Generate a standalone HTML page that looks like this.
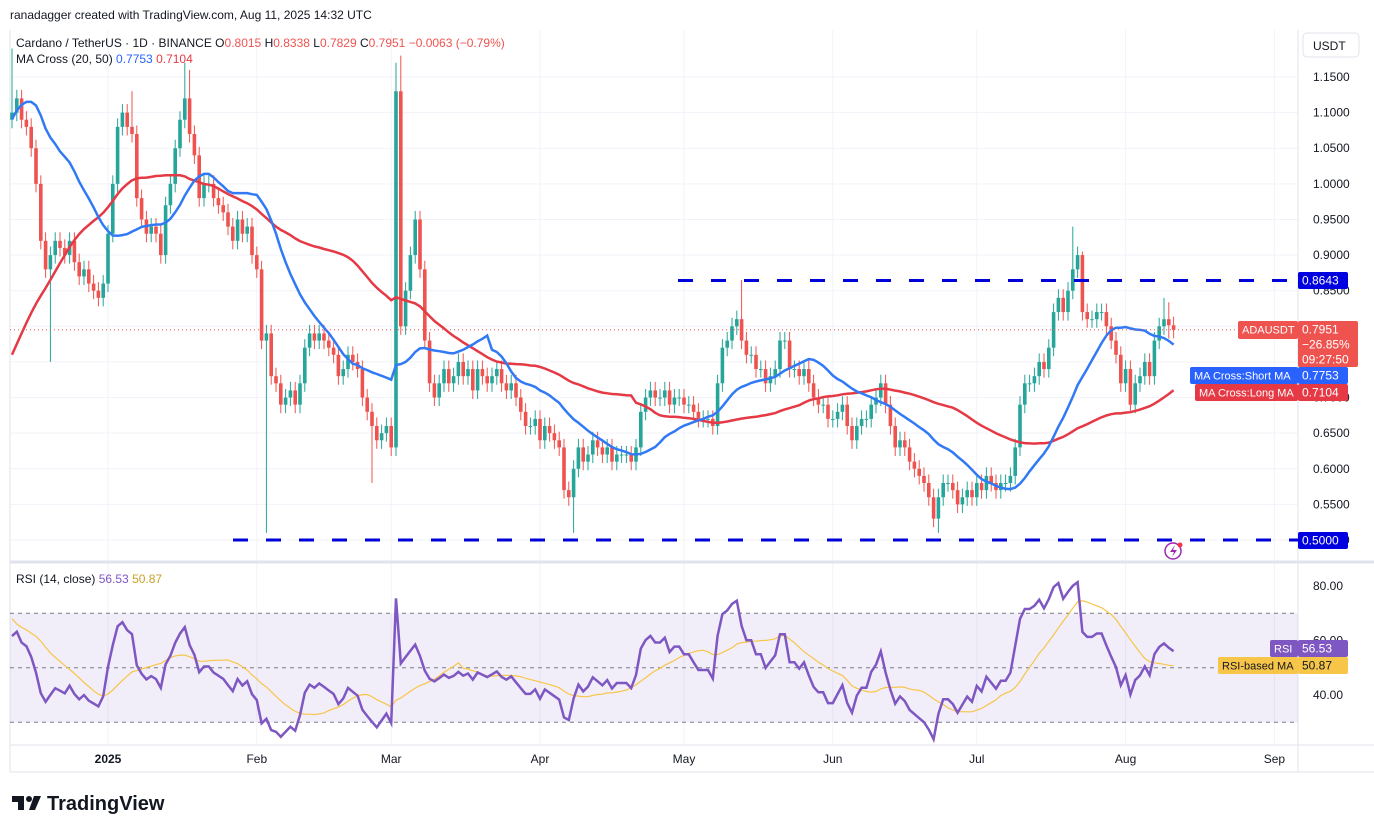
<!DOCTYPE html>
<html><head><meta charset="utf-8"><style>
body{margin:0;background:#fff;width:1374px;height:833px;overflow:hidden;font-family:"Liberation Sans",sans-serif}
svg text{font-family:"Liberation Sans",sans-serif}
</style></head><body>
<svg id="c" width="1374" height="833"></svg>
<script>
const priorCloses=[0.36,0.35,0.34,0.35,0.36,0.35,0.34,0.33,0.33,0.32,0.34,0.36,0.40,0.45,0.52,0.58,0.56,0.58,0.55,0.54,0.56,0.60,0.70,0.78,0.80,0.85,0.90,0.92,0.89,0.87,0.88,0.93,1.00,1.05,1.10,1.20,1.25,1.15,1.10,1.12,1.05,1.08,1.14,1.16,1.12,1.09,1.10,1.11,1.09];
const closes=[
1.10,1.12,1.09,1.08,1.05,1.00,0.92,0.88,0.90,0.92,0.91,0.90,0.92,0.89,0.87,0.88,0.86,0.85,0.84,0.86,
0.93,1.00,1.08,1.10,1.08,1.07,0.98,0.95,0.93,0.94,0.93,0.90,0.97,1.00,1.05,1.09,1.12,1.07,1.04,0.98,1.00,1.00,0.98,0.97,0.96,0.94,0.92,0.95,0.93,0.94,0.90,
0.88,0.78,0.79,0.73,0.72,0.69,0.70,0.71,0.69,0.72,0.77,0.79,0.78,0.79,0.78,0.77,0.76,0.73,0.74,0.76,0.75,0.74,0.70,0.68,0.66,0.64,0.65,0.66,
0.63,1.13,0.80,0.85,0.90,0.95,0.88,0.78,0.72,0.70,0.72,0.74,0.72,0.73,0.75,0.73,0.74,0.71,0.74,0.73,0.72,0.73,0.74,0.72,0.71,0.72,0.70,0.68,0.66,0.66,0.67,
0.64,0.66,0.65,0.64,0.63,0.57,0.56,0.60,0.63,0.61,0.62,0.64,0.63,0.62,0.63,0.61,0.62,0.62,0.62,0.61,0.63,0.68,0.70,0.71,0.70,0.70,0.71,0.69,0.70,0.70,
0.69,0.69,0.68,0.67,0.67,0.67,0.66,0.72,0.77,0.78,0.80,0.81,0.78,0.76,0.76,0.74,0.74,0.72,0.73,0.74,0.78,0.78,0.74,0.74,0.73,0.74,0.72,0.70,0.69,0.69,0.67,
0.67,0.68,0.69,0.66,0.64,0.66,0.67,0.67,0.69,0.70,0.72,0.69,0.66,0.63,0.64,0.63,0.61,0.60,0.59,0.58,0.56,0.53,0.56,0.58,0.58,0.57,0.55,0.56,0.57,0.56,
0.58,0.57,0.59,0.58,0.57,0.58,0.58,0.59,0.63,0.69,0.72,0.72,0.73,0.75,0.74,0.77,0.82,0.84,0.82,0.85,0.88,0.90,0.82,0.81,0.81,0.82,0.82,0.80,0.78,0.76,0.72,
0.74,0.69,0.72,0.73,0.75,0.73,0.78,0.80,0.81,0.8015,0.7951];
const spikeHigh={0:1.19,25:1.13,36:1.17,37:1.16,80:1.17,81:1.18,152:0.865,221:0.94,223:0.905,240:0.84,241:0.8338};
const spikeLow={8:0.75,53:0.51,75:0.58,117:0.51,193:0.51,241:0.7829};
const priceTicks=[1.15,1.10,1.05,1.00,0.95,0.90,0.85,0.80,0.75,0.70,0.65,0.60,0.55,0.50];
const rsiTicks=[80,60,40];
const monthLabels=["2025","Feb","Mar","Apr","May","Jun","Jul","Aug","Sep"];
const monthIndex=[20,51,79,110,140,171,201,232,263];
const levels=[0.8643,0.5];

const S=document.getElementById('c');const NS='http://www.w3.org/2000/svg';
function el(t,a,p){const e=document.createElementNS(NS,t);for(const k in a)e.setAttribute(k,a[k]);(p||S).appendChild(e);return e;}
const X=i=>12+i*4.8;
const Y=p=>540-(p-0.5)*712.3;
const RY=v=>586+(80-v)*2.725;
priceTicks.forEach(p=>{const g=el('line',{x1:10,x2:1298,y1:Y(p),y2:Y(p),stroke:'#f0f3fa'});});
monthIndex.forEach(i=>{const g=el('line',{x1:X(i),x2:X(i),y1:30,y2:745,stroke:'#f0f3fa'});});
el('line',{x1:1298,x2:1298,y1:30,y2:772,stroke:'#e0e3eb'});
el('line',{x1:10,x2:1374,y1:562,y2:562,stroke:'#e0e3eb',"stroke-width":3});
el('line',{x1:10,x2:1374,y1:745,y2:745,stroke:'#e0e3eb'});
el('line',{x1:10,x2:10,y1:30,y2:772,stroke:'#e0e3eb'});
el('line',{x1:10,x2:1374,y1:772,y2:772,stroke:'#e0e3eb'});
const all=priorCloses.concat(closes),off=priorCloses.length;
function sma(n,i){let s=0,c=0;for(let k=Math.max(0,i-n+1);k<=i;k++){s+=all[k];c++;}return s/c;}
function maPath(n){let d='';closes.forEach((_,i)=>{d+=(i?'L':'M')+X(i).toFixed(1)+','+Y(sma(n,i+off)).toFixed(1);});return d;}
closes.forEach((c,i)=>{const o=i?closes[i-1]:1.09;const up=c>=o;const col=up?'#26a69a':'#ef5350';
const hi=spikeHigh[i]!==undefined?spikeHigh[i]:Math.max(o,c)+0.012;const lo=spikeLow[i]!==undefined?spikeLow[i]:Math.min(o,c)-0.012;
const g=el('g',{});
el('line',{x1:X(i),x2:X(i),y1:Y(hi),y2:Y(lo),stroke:col,"stroke-width":1},g);
const t=Y(Math.max(o,c)),b=Y(Math.min(o,c));el('rect',{x:X(i)-1.8,y:t,width:3.6,height:Math.max(1,b-t),fill:col},g);});
const m50=el('path',{d:maPath(50),fill:'none',stroke:'#e53945',"stroke-width":2.5});
const m20=el('path',{d:maPath(20),fill:'none',stroke:'#3179f5',"stroke-width":2.5});
const l1=el('line',{x1:678,x2:1298,y1:Y(levels[0]),y2:Y(levels[0]),stroke:'#0000d8',"stroke-width":3,"stroke-dasharray":"15 18"});
const l2=el('line',{x1:233,x2:1298,y1:Y(levels[1]),y2:Y(levels[1]),stroke:'#0000d8',"stroke-width":3,"stroke-dasharray":"15 18"});
const pl=el('line',{x1:10,x2:1298,y1:Y(0.7951),y2:Y(0.7951),stroke:'#ef5350',"stroke-dasharray":"1 3"});
priceTicks.forEach(p=>{const t=el('text',{x:1313,y:Y(p)+4,"font-size":12,fill:'#131722'});t.textContent=p.toFixed(4);});
function box(x,y,w,h,fill,txt,col,name,fs){const g=el('g',{});el('rect',{x,y,width:w,height:h,fill,rx:2},g);
txt.forEach((s,k)=>{const t=el('text',{x:x+4,y:y+12.5+k*15,"font-size":fs||12,fill:col},g);t.textContent=s;});}
box(1298,272,50,17,'#0000e0',['0.8643'],'#fff','resistance-label');
box(1238,321,60,18,'#ef5350',['ADAUSDT'],'#fff','symbol-label',11);
box(1298,321,60,46,'#ef5350',['0.7951','−26.85%','09:27:50'],'#fff','last-price-label');
box(1190,367,108,17,'#2962ff',['MA Cross:Short MA'],'#fff','short-ma-tag',11);
box(1298,367,50,17,'#2962ff',['0.7753'],'#fff','short-ma-value');
box(1195,384,103,17,'#e53945',['MA Cross:Long MA'],'#fff','long-ma-tag',11);
box(1298,384,50,17,'#e53945',['0.7104'],'#fff','long-ma-value');
box(1298,532,50,17,'#0000e0',['0.5000'],'#fff','support-label');
const ub=el('rect',{x:1303,y:33,width:56,height:24,rx:4,fill:'#fff',stroke:'#e0e3eb'});
el('text',{x:1313,y:50,"font-size":12,fill:'#131722'}).textContent='USDT';
el('text',{x:10,y:19,"font-size":12,fill:'#131722'}).textContent='ranadagger created with TradingView.com, Aug 11, 2025 14:32 UTC';
const lg=el('text',{x:16,y:47,"font-size":12,fill:'#131722'});
lg.setAttribute('xml:space','preserve');
lg.innerHTML='Cardano / TetherUS · 1D · BINANCE  O<tspan fill="#ef5350">0.8015</tspan>  H<tspan fill="#ef5350">0.8338</tspan>  L<tspan fill="#ef5350">0.7829</tspan>  C<tspan fill="#ef5350">0.7951  −0.0063 (−0.79%)</tspan>';
const ml=el('text',{x:16,y:63,"font-size":12,fill:'#131722'});ml.setAttribute('xml:space','preserve');
ml.innerHTML='MA Cross (20, 50)  <tspan fill="#2962ff">0.7753</tspan>  <tspan fill="#e53945">0.7104</tspan>';
el('circle',{cx:1173,cy:551,r:8,fill:'none',stroke:'#9c27b0',"stroke-width":1.5});
el('path',{d:'M1175 545l-5 7h4l-2 5 5-7h-4z',fill:'#9c27b0'});
el('circle',{cx:1180,cy:545,r:2.5,fill:'#f23645'});
const bd=el('rect',{x:10,y:RY(70),width:1288,height:RY(30)-RY(70),fill:'rgba(126,87,194,0.1)'});
[70,50,30].forEach(v=>el('line',{x1:10,x2:1298,y1:RY(v),y2:RY(v),stroke:'#787b86',"stroke-dasharray":"4 4","stroke-width":1}));
let ag=0,al=0;const rsi=[];
for(let k=1;k<all.length;k++){const d=all[k]-all[k-1];const g=Math.max(d,0),l=Math.max(-d,0);
if(k<=14){ag+=g/14;al+=l/14;}else{ag=(ag*13+g)/14;al=(al*13+l)/14;}rsi.push(al===0?100:100-100/(1+ag/al));}
const rs=closes.map((_,i)=>rsi[i+off-1]);
function rma(i){let s=0;for(let k=0;k<14;k++)s+=rsi[i+off-1-k];return s/14;}
let d1='',d2='';rs.forEach((v,i)=>{d1+=(i?'L':'M')+X(i).toFixed(1)+','+RY(v).toFixed(1);d2+=(i?'L':'M')+X(i).toFixed(1)+','+RY(rma(i)).toFixed(1);});
const rm=el('path',{d:d2,fill:'none',stroke:'#f7c548',"stroke-width":1.2});
const rl=el('path',{d:d1,fill:'none',stroke:'#7e57c2',"stroke-width":2.5});
rsiTicks.forEach(v=>{const t=el('text',{x:1313,y:RY(v)+4,"font-size":12,fill:'#131722'});t.textContent=v.toFixed(2);});
box(1270,640,28,17,'#7e57c2',['RSI'],'#fff','rsi-tag',11);
box(1298,640,50,17,'#7e57c2',['56.53'],'#fff','rsi-value');
box(1218,657,80,17,'#f7c548',['RSI-based MA'],'#131722','rsi-ma-tag',11);
box(1298,657,50,17,'#f7c548',['50.87'],'#131722','rsi-ma-value');
const rlg=el('text',{x:16,y:583,"font-size":12,fill:'#131722'});rlg.setAttribute('xml:space','preserve');
rlg.innerHTML='RSI (14, close)  <tspan fill="#7e57c2">56.53</tspan>  <tspan fill="#c9a227">50.87</tspan>';
monthLabels.forEach((m,k)=>{const t=el('text',{x:X(monthIndex[k]),y:763,"font-size":12,fill:'#131722',"text-anchor":'middle',"font-weight":k===0?'bold':'normal'});t.textContent=m;});
const lo=el('g',{});
el('path',{d:'M12 796h12v14h-6v-8h-6z',fill:'#131722'},lo);el('circle',{cx:29,cy:799,r:3,fill:'#131722'},lo);el('path',{d:'M34 796h7l-6 14h-6z',fill:'#131722'},lo);
const lt=el('text',{x:47,y:810,"font-size":20,"font-weight":'bold',fill:'#131722'},lo);lt.textContent='TradingView';
</script>
</body></html>
